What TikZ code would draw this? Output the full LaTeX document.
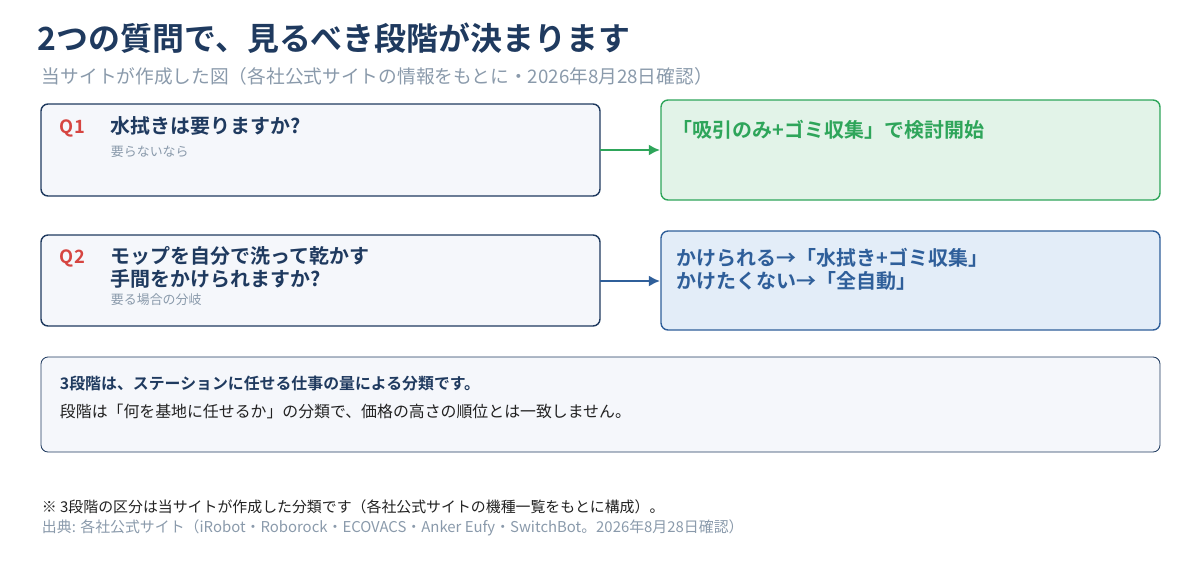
\documentclass[tikz,border=0pt]{standalone}
\usepackage{fontspec}
\setmainfont{Noto Sans CJK JP}[BoldFont={Noto Sans CJK JP Bold}]
\usetikzlibrary{arrows.meta}
\definecolor{navy}{HTML}{1F3A5F}
\definecolor{qred}{HTML}{D64541}
\definecolor{grey}{HTML}{8A9AAB}
\definecolor{boxbg}{HTML}{F5F7FB}
\definecolor{gline}{HTML}{2EA55A}
\definecolor{gfill}{HTML}{E2F3E8}
\definecolor{bline}{HTML}{2F5F9A}
\definecolor{bfill}{HTML}{E3EDF8}
\definecolor{ink}{HTML}{222222}
\tikzset{
  qbox/.style={draw=navy, line width=1pt, fill=boxbg, rounded corners=5pt},
  abox/.style={line width=1pt, rounded corners=5pt},
  qlab/.style={anchor=west, text=qred, font=\bfseries\fontsize{13}{15}\selectfont},
  qtxt/.style={anchor=north west, text=navy, align=left, font=\bfseries\fontsize{14.2}{16.5}\selectfont},
  sub/.style={anchor=west, text=grey, font=\fontsize{9.2}{11}\selectfont},
  link/.style={line width=1.6pt, -{Latex[length=8pt,width=8pt]}}
}
\begin{document}
\begin{tikzpicture}[x=0.025cm, y=-0.025cm]
\useasboundingbox (0,0) rectangle (1200,560);

\node (title) [anchor=west, text=navy, font=\bfseries\fontsize{22.7}{26}\selectfont] at (33,38) {2つの質問で、見るべき段階が決まります};
\node (subtitle) [anchor=west, text=grey, font=\fontsize{13.3}{15}\selectfont] at (37,76) {当サイトが作成した図（各社公式サイトの情報をもとに・2026年8月28日確認）};

% question 1
\draw[qbox] (41,104) rectangle (600,196);
\node (q1) [qlab] at (55,128) {Q1};
\node (q1t) [qtxt] at (106,112) {水拭きは要りますか?};
\node (q1s) [sub] at (106,152) {要らないなら};
\draw[abox, draw=gline, fill=gfill] (661,100) rectangle (1160,200);
\node (a1) [anchor=west, text=gline, font=\bfseries\fontsize{14.2}{16.5}\selectfont] at (668,130) {「吸引のみ+ゴミ収集」で検討開始};
\coordinate (o1) at (600,150);
\coordinate (i1) at (660,150);
\draw[link, draw=gline] (o1) -- (i1);

% question 2
\draw[qbox] (41,235) rectangle (600,326);
\node (q2) [qlab] at (55,258) {Q2};
\node (q2t) [qtxt] at (106,241) {モップを自分で洗って乾かす\\手間をかけられますか?};
\node (q2s) [sub] at (106,300) {要る場合の分岐};
\draw[abox, draw=bline, fill=bfill] (661,231) rectangle (1160,330);
\node (a2) [anchor=north west, align=left, text=bline, font=\bfseries\fontsize{14.2}{16.5}\selectfont] at (672,243) {かけられる→「水拭き+ゴミ収集」\\かけたくない→「全自動」};
\coordinate (o2) at (600,281);
\coordinate (i2) at (660,281);
\draw[link, draw=bline] (o2) -- (i2);

% note
\draw[draw=navy, line width=0.6pt, fill=boxbg, rounded corners=5pt] (41,357) rectangle (1160,452);
\node (n1) [anchor=west, text=navy, font=\bfseries\fontsize{11.3}{13}\selectfont] at (55,383) {3段階は、ステーションに任せる仕事の量による分類です。};
\node (n2) [anchor=west, text=ink, font=\fontsize{11.3}{13}\selectfont] at (55,411) {段階は「何を基地に任せるか」の分類で、価格の高さの順位とは一致しません。};

% footnotes
\node (f1) [anchor=west, text=ink, font=\fontsize{10.6}{12}\selectfont] at (37,507) {※ 3段階の区分は当サイトが作成した分類です（各社公式サイトの機種一覧をもとに構成）。};
\node (f2) [anchor=west, text=grey, font=\fontsize{10.6}{12}\selectfont] at (37,528) {出典: 各社公式サイト（iRobot・Roborock・ECOVACS・Anker Eufy・SwitchBot。2026年8月28日確認）};
\end{tikzpicture}
\end{document}
